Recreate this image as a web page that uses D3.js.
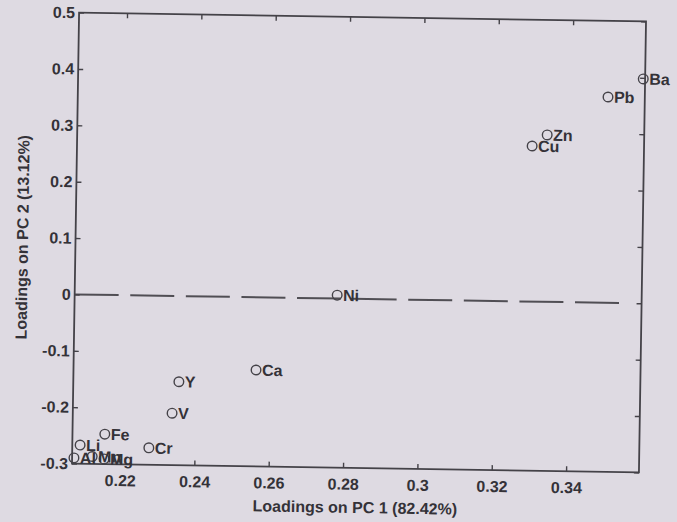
<!DOCTYPE html>
<html>
<head>
<meta charset="utf-8">
<script src="https://cdn.jsdelivr.net/npm/d3@7"></script>
<style>
  html, body { margin: 0; padding: 0; background: #dedae2; }
  svg { display: block; }
  text { font-family: "Liberation Sans", Arial, sans-serif; font-weight: bold; fill: #343238; }
</style>
</head>
<body>
<svg id="chart" width="677" height="522"></svg>
<script>
// element loadings
var elements = ["Ba", "Pb", "Zn", "Cu", "Ni", "Ca", "Y", "V", "Fe", "Cr", "Li", "Al", "Mn", "Mg"];
var pc1 = [0.3591, 0.3497, 0.3335, 0.3295, 0.2777, 0.2562, 0.2355, 0.2338, 0.2158, 0.2277, 0.2092, 0.2076, 0.2125, 0.2157];
var pc2 = [0.398, 0.365, 0.296, 0.276, 0.006, -0.129, -0.152, -0.208, -0.247, -0.270, -0.267, -0.290, -0.287, -0.291];
var xTicks = [0.22, 0.24, 0.26, 0.28, 0.3, 0.32, 0.34];
var yTicks = [-0.3, -0.2, -0.1, 0, 0.1, 0.2, 0.3, 0.4, 0.5];
var zeroLine = [0.2071, 0.355];

// note: "top" is taken by window.top, so use own names
var pLeft = 75.5, pRight = 642.5, pTop = 17, pBottom = 468;
var ink = "#444248";

var svg = d3.select("#chart");
// the reference is a photo of a printed page, slightly turned
var g = svg.append("g").attr("transform", "rotate(0.9,359,243)");

var x = d3.scaleLinear().domain([0.2071, 0.3596]).range([pLeft, pRight]);
var y = d3.scaleLinear().domain([-0.3, 0.5]).range([pBottom, pTop]);
var fmt = function(d) { return String(+d.toFixed(2)); };

// dashed zero line
g.append("line")
    .attr("x1", x(zeroLine[0])).attr("x2", x(zeroLine[1]))
    .attr("y1", y(0)).attr("y2", y(0))
    .attr("stroke", "#504e54").attr("stroke-width", 2)
    .attr("stroke-dasharray", "44,11.6");

// box
g.append("rect")
    .attr("x", pLeft).attr("y", pTop)
    .attr("width", pRight - pLeft).attr("height", pBottom - pTop)
    .attr("fill", "none").attr("stroke", ink).attr("stroke-width", 1.8);

// axes, ticks pointing inwards like matlab
var xb = g.append("g").attr("transform", "translate(0," + pBottom + ")")
    .call(d3.axisBottom(x).tickValues(xTicks).tickFormat(fmt).tickSizeInner(-5).tickSizeOuter(0).tickPadding(10.5));
var xt = g.append("g").attr("transform", "translate(0," + pTop + ")")
    .call(d3.axisTop(x).tickValues(xTicks).tickFormat("").tickSizeInner(-5).tickSizeOuter(0));
var yl = g.append("g").attr("transform", "translate(" + pLeft + ",0)")
    .call(d3.axisLeft(y).tickValues(yTicks).tickFormat(fmt).tickSizeInner(-5).tickSizeOuter(0).tickPadding(4));
var yr = g.append("g").attr("transform", "translate(" + pRight + ",0)")
    .call(d3.axisRight(y).tickValues(yTicks).tickFormat("").tickSizeInner(-5).tickSizeOuter(0));

[xb, xt, yl, yr].forEach(function(a) {
    a.select(".domain").remove();
    a.selectAll(".tick line").attr("stroke", ink).attr("stroke-width", 1.4);
    a.selectAll(".tick text").attr("font-size", 16).attr("font-family", null).attr("fill", null);
});

// points and labels
var pts = elements.map(function(e, i) { return {name: e, px: pc1[i], py: pc2[i]}; });

g.selectAll("circle.pt")
    .data(pts).enter().append("circle")
    .attr("class", "pt")
    .attr("cx", function(d) { return x(d.px); })
    .attr("cy", function(d) { return y(d.py); })
    .attr("r", 4.8)
    .attr("fill", "none").attr("stroke", ink).attr("stroke-width", 1.4);

g.selectAll("text.lab")
    .data(pts).enter().append("text")
    .attr("class", "lab")
    .attr("x", function(d) { return x(d.px) + 6; })
    .attr("y", function(d) { return y(d.py); })
    .attr("dy", "0.36em")
    .attr("font-size", 16)
    .text(function(d) { return d.name; });

// axis titles
g.append("text")
    .attr("x", (pLeft + pRight) / 2).attr("y", 513)
    .attr("text-anchor", "middle").attr("font-size", 16)
    .text("Loadings on PC 1 (82.42%)");

g.append("text")
    .attr("transform", "translate(28," + (pTop + pBottom) / 2 + ") rotate(-90)")
    .attr("text-anchor", "middle").attr("font-size", 16)
    .text("Loadings on PC 2 (13.12%)");
</script>
</body>
</html>
